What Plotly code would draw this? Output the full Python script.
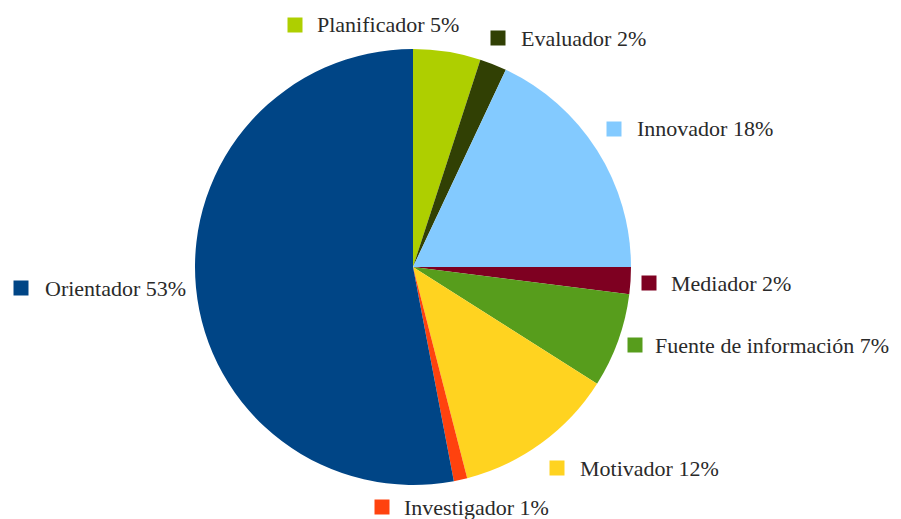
import plotly.graph_objects as go

W, H = 901, 519
OFF = 8  # browser default body margin
FW, FH = W - OFF, H - OFF

# Data
labels = ["Planificador", "Evaluador", "Innovador", "Mediador",
          "Fuente de información", "Motivador", "Investigador", "Orientador"]
values = [5, 2, 18, 2, 7, 12, 1, 53]
colors = ["#aecf00", "#314004", "#83caff", "#7e0021",
          "#579d1c", "#ffd320", "#ff420e", "#004586"]

# Label layout (window pixel positions of legend squares: center x, center y; text start x)
square_pos = [(295, 25), (498, 38), (614, 129), (649, 283),
              (635, 345), (557, 468), (382, 507), (21, 288)]
text_start = [315, 519, 635, 669, 653, 578, 402, 43]
SQ = 15


def px(x):
    return (x - OFF) / FW


def py(y):
    return 1 - (y - OFF) / FH


fig = go.Figure(go.Pie(
    labels=labels, values=values, sort=False, direction="clockwise",
    rotation=0, marker=dict(colors=colors, line=dict(width=0)),
    textinfo="none", hoverinfo="label+percent", showlegend=False,
    domain=dict(x=[px(195), px(631)], y=[py(485), py(49)]),
))

total = sum(values)
shapes, annotations = [], []
for lab, v, c, (sx, sy), tx in zip(labels, values, colors, square_pos, text_start):
    shapes.append(dict(type="rect", xref="paper", yref="paper",
                       x0=px(sx - SQ / 2), x1=px(sx + SQ / 2),
                       y0=py(sy + SQ / 2), y1=py(sy - SQ / 2),
                       fillcolor=c, line=dict(width=0)))
    annotations.append(dict(xref="paper", yref="paper", x=px(tx), y=py(sy),
                            xanchor="left", yanchor="middle", showarrow=False,
                            text=f"{lab} {round(100 * v / total)}%",
                            font=dict(family="Liberation Serif", size=22, color="#2a2a2a")))

fig.update_layout(width=FW, height=FH, margin=dict(l=0, r=0, t=0, b=0),
                  paper_bgcolor="white", plot_bgcolor="white",
                  shapes=shapes, annotations=annotations)
fig.write_html("out.html")
